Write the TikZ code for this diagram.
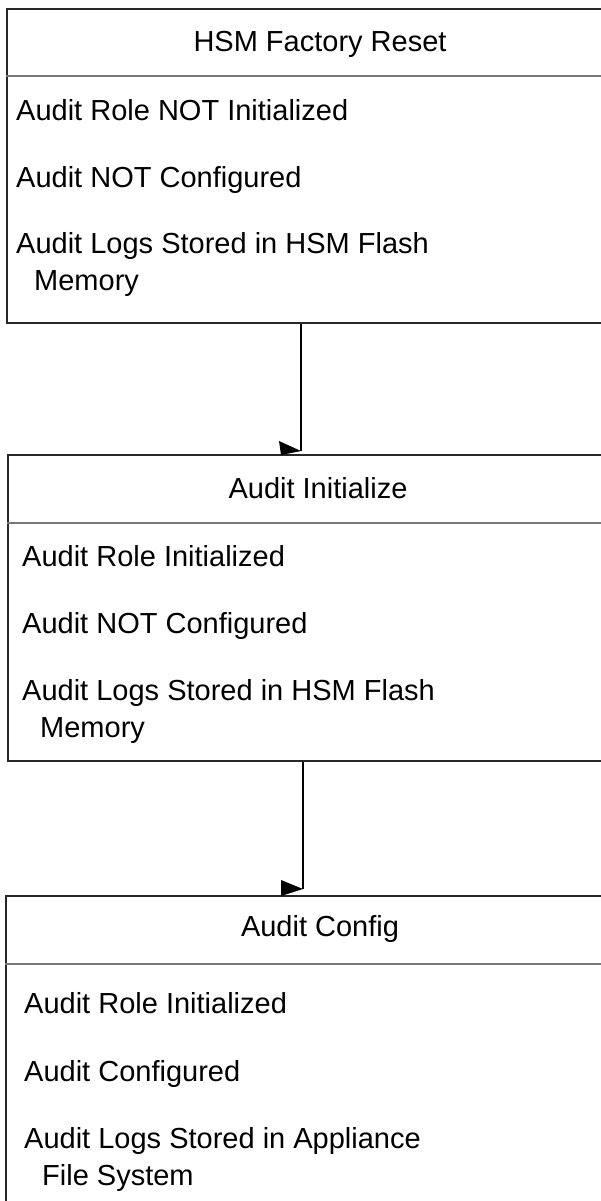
\documentclass[tikz,border=0pt]{standalone}
\usepackage{fontspec}
\setmainfont{Liberation Sans}
\definecolor{boxline}{RGB}{40,40,40}
\definecolor{divline}{RGB}{120,120,120}
\begin{document}
\begin{tikzpicture}[x=1pt,y=-1pt,
  box/.style={draw=boxline, line width=2.2pt, rectangle, inner sep=0pt, anchor=north west},
  divider/.style={draw=divline, line width=1.2pt},
  head/.style={font=\fontsize{29}{34}\selectfont, inner sep=0pt, anchor=base},
  item/.style={font=\fontsize{29}{34}\selectfont, inner sep=0pt, anchor=base west},
  conn/.style={draw=black, line width=1.5pt},
  tipfill/.style={fill=black}]
\useasboundingbox (0,0) rectangle (601,1201);
\clip (0,0) rectangle (601,1201);

% Box 1
\node[box, minimum width=640pt, minimum height=314pt] (b1) at (6,8) {};
\draw[divider] (b1.west |- 0,76) -- (b1.east |- 0,76);
\node[head] (h1) at (320,52) {HSM Factory Reset};
\node[item] (b1i1) at (16,121) {Audit Role NOT Initialized};
\node[item] (b1i2) at (16,187) {Audit NOT Configured};
\node[item] (b1i3) at (16,253) {Audit Logs Stored in HSM Flash};
\node[item] (b1i4) at (34,290) {Memory};

% Box 2
\node[box, minimum width=640pt, minimum height=306pt] (b2) at (7,454) {};
\draw[divider] (b2.west |- 0,523) -- (b2.east |- 0,523);
\node[head] (h2) at (318,498) {Audit Initialize};
\node[item] (b2i1) at (22,566) {Audit Role Initialized};
\node[item] (b2i2) at (22,633) {Audit NOT Configured};
\node[item] (b2i3) at (22,700) {Audit Logs Stored in HSM Flash};
\node[item] (b2i4) at (40,737) {Memory};

% Box 3
\node[box, minimum width=640pt, minimum height=340pt] (b3) at (5,895) {};
\draw[divider] (b3.west |- 0,964) -- (b3.east |- 0,964);
\node[head] (h3) at (320,936) {Audit Config};
\node[item] (b3i1) at (24,1013) {Audit Role Initialized};
\node[item] (b3i2) at (24,1081) {Audit Configured};
\node[item] (b3i3) at (24,1148) {Audit Logs Stored in Appliance};
\node[item] (b3i4) at (42,1185) {File System};

% Connectors
\coordinate (t1) at (301,451);
\draw[conn] (b1.south -| t1) -- (t1);
\fill[tipfill] (t1) -- ++(-22,-10) -- ++(2,14) -- cycle;

\coordinate (t2) at (303,889);
\draw[conn] (b2.south -| t2) -- (t2);
\fill[tipfill] (t2) -- ++(-22,-9) -- ++(0,16) -- cycle;
\end{tikzpicture}
\end{document}
